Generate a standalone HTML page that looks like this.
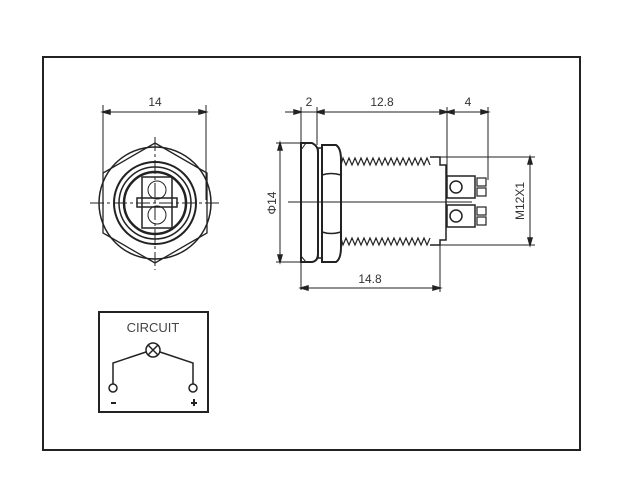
<!DOCTYPE html><html><head><style>body{margin:0;background:#fff}svg{display:block}</style></head><body>
<svg width="639" height="503" viewBox="0 0 639 503" xmlns="http://www.w3.org/2000/svg" font-family="Liberation Sans, sans-serif" fill="none" stroke="#222">
<rect x="43" y="57" width="537" height="393" stroke-width="2"/>
<!-- left view -->
<g stroke-width="1.5">
<line x1="103" y1="105" x2="103" y2="200" stroke-width="1"/><line x1="206" y1="105" x2="206" y2="200" stroke-width="1"/>
<line x1="103" y1="112" x2="206" y2="112" stroke-width="1"/>
<polygon points="103,112 110,110 110,114" fill="#222"/><polygon points="206,112 199,110 199,114" fill="#222"/>
<circle cx="155" cy="203" r="56"/>
<polygon points="155,143 207,173 207,233 155,263 103,233 103,173" stroke-width="1.3"/>
<circle cx="155" cy="203" r="41" stroke-width="2"/>
<circle cx="155" cy="203" r="36" stroke-width="1.5"/>
<circle cx="155" cy="203" r="31" stroke-width="2.5"/>
<rect x="142" y="177" width="30" height="51" stroke-width="1.5"/>
<circle cx="157" cy="190" r="9" stroke-width="1"/><circle cx="157" cy="215" r="9" stroke-width="1"/>
<rect x="137" y="198" width="40" height="9" stroke-width="1.5"/>
<line x1="90" y1="203" x2="220" y2="203" stroke-width="1" stroke-dasharray="14,3,3,3"/>
<line x1="155" y1="137" x2="155" y2="270" stroke-width="1" stroke-dasharray="14,3,3,3"/>
</g>
<text x="155" y="106" font-size="12" fill="#333" stroke="none" text-anchor="middle">14</text>
<!-- side view -->
<g stroke-width="1.5">
<line x1="285" y1="112" x2="488" y2="112" stroke-width="1"/>
<line x1="301" y1="107" x2="301" y2="290" stroke-width="1"/>
<line x1="317" y1="107" x2="317" y2="145" stroke-width="1"/>
<line x1="447" y1="107" x2="447" y2="178" stroke-width="1"/>
<line x1="488" y1="107" x2="488" y2="180" stroke-width="1"/>
<polygon points="301,112 294,110 294,114" fill="#222"/><polygon points="317,112 324,110 324,114" fill="#222"/>
<polygon points="447,112 440,110 440,114" fill="#222"/><polygon points="447,112 454,110 454,114" fill="#222"/><polygon points="488,112 481,110 481,114" fill="#222"/>
<path d="M301,143 H312 Q318,146 318,152 V254 Q318,261 312,262 H301 Z" stroke-width="2"/>
<path d="M301,150 L306,143 M301,256 L306,262" stroke-width="1"/>
<rect x="318" y="148" width="4" height="110"/>
<path d="M322,145 H336 Q341,148 341,160 V247 Q341,259 336,262 H322 Z" stroke-width="2"/>
<path d="M322,175 Q331,172 341,175 M322,232 Q331,235 341,232" stroke-width="1.5"/>
<path d="M341,165 L343,158 L346,165 L349,158 L352,165 L355,158 L358,165 L361,158 L364,165 L367,158 L370,165 L373,158 L376,165 L379,158 L382,165 L385,158 L388,165 L391,158 L394,165 L397,158 L400,165 L403,158 L406,165 L409,158 L412,165 L415,158 L418,165 L421,158 L424,165 L427,158 L430,165" stroke-width="1.2"/>
<path d="M341,238 L343,245 L346,238 L349,245 L352,238 L355,245 L358,238 L361,245 L364,238 L367,245 L370,238 L373,245 L376,238 L379,245 L382,238 L385,245 L388,238 L391,245 L394,238 L397,245 L400,238 L403,245 L406,238 L409,245 L412,238 L415,245 L418,238 L421,245 L424,238 L427,245 L430,238" stroke-width="1.2"/>
<path d="M430,157 H440 V165 H446 V240 H440 V245 H430 M341,165 V238" stroke-width="1.5"/>
<line x1="440" y1="157" x2="535" y2="157" stroke-width="1"/><line x1="440" y1="245" x2="535" y2="245" stroke-width="1"/>
<rect x="447" y="176" width="28" height="22"/><rect x="447" y="205" width="28" height="22"/>
<circle cx="456" cy="187" r="6"/><circle cx="456" cy="216" r="6"/>
<rect x="477" y="178" width="9" height="8" stroke-width="1.2"/><rect x="477" y="188" width="9" height="8" stroke-width="1.2"/>
<rect x="477" y="207" width="9" height="8" stroke-width="1.2"/><rect x="477" y="217" width="9" height="8" stroke-width="1.2"/>
<line x1="288" y1="202" x2="472" y2="202" stroke-width="1"/>
<line x1="276" y1="143" x2="301" y2="143" stroke-width="1"/><line x1="276" y1="262" x2="301" y2="262" stroke-width="1"/>
<line x1="280" y1="143" x2="280" y2="262" stroke-width="1"/>
<polygon points="280,143 278,150 282,150" fill="#222"/><polygon points="280,262 278,255 282,255" fill="#222"/>
<line x1="530" y1="157" x2="530" y2="245" stroke-width="1"/>
<polygon points="530,157 528,164 532,164" fill="#222"/><polygon points="530,245 528,238 532,238" fill="#222"/>
<line x1="440" y1="245" x2="440" y2="292" stroke-width="1"/>
<line x1="301" y1="288" x2="440" y2="288" stroke-width="1"/>
<polygon points="301,288 308,286 308,290" fill="#222"/><polygon points="440,288 433,286 433,290" fill="#222"/>
</g>
<g fill="#333" stroke="none" font-size="12" text-anchor="middle">
<text x="309" y="106">2</text><text x="382" y="106">12.8</text><text x="468" y="106">4</text>
<text x="370" y="283">14.8</text>
<text transform="translate(276,203) rotate(-90)">Φ14</text>
<text transform="translate(524,201) rotate(-90)">M12X1</text>
</g>
<!-- circuit -->
<rect x="99" y="312" width="109" height="100" stroke-width="2"/>
<text x="153" y="332" font-size="13" fill="#444" stroke="none" text-anchor="middle">CIRCUIT</text>
<g stroke-width="1.5">
<circle cx="153" cy="350" r="7"/>
<path d="M148,345 L158,355 M158,345 L148,355"/>
<path d="M146,352 L113,363 V384 M160,352 L193,363 V384"/>
<circle cx="113" cy="388" r="4" fill="#fff"/><circle cx="193" cy="388" r="4" fill="#fff"/>
<path d="M111,403 H116 M191,403 H197 M194,399 V406" stroke-width="2"/>
</g>
</svg>
</body></html>
